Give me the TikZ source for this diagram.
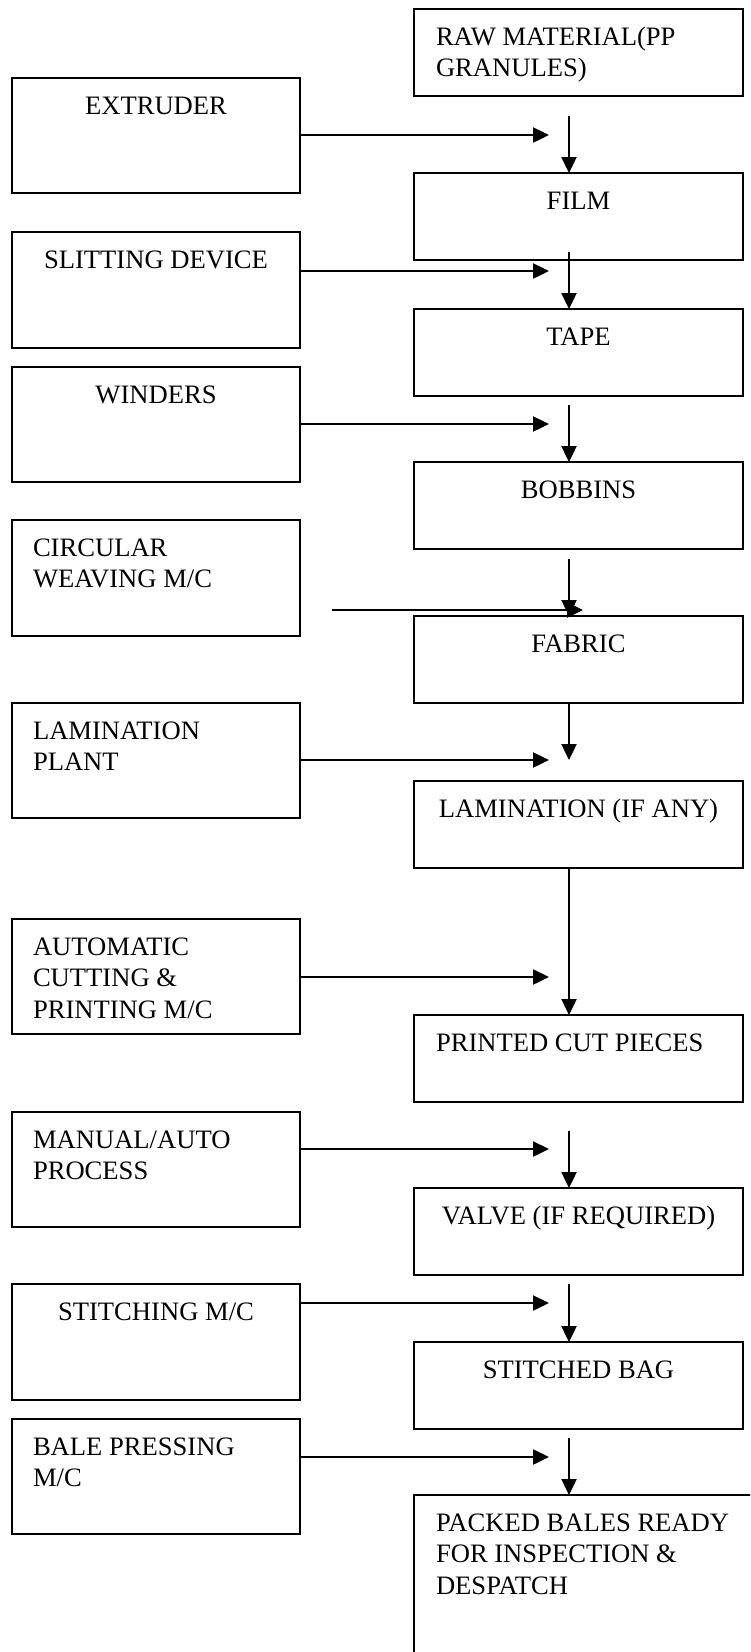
\documentclass[tikz,border=0pt]{standalone}
\usepackage{fontspec}
\setmainfont{Liberation Serif}
\usetikzlibrary{arrows.meta}
\newcommand\mybxt[4]{\parbox[c][#2][t]{#1}{#3\rule{0pt}{36pt}#4}}
\newcommand\myleftpad{\raggedright\leftskip=21pt\relax}
\newcommand\myrightpad{\raggedright\leftskip=22pt\relax}
\newcommand\mycenter{\centering}
\begin{document}
\begin{tikzpicture}[x=1pt,y=-1pt,
  font=\fontsize{26.6}{31.5}\selectfont,
  box/.style={draw, line width=2pt, inner sep=0pt, outer sep=0pt, anchor=north west},
  arr/.style={line width=2.4pt, -{Triangle[length=16pt,width=15pt]}}]
\useasboundingbox (0,0) rectangle (750,1652);
\clip (0,0) rectangle (750,1652);
% right column
\node[box] (raw) at (414,9) {\mybxt{329pt}{87pt}{\myrightpad}{RAW MATERIAL(PP\\GRANULES)}};
\node[box] (film) at (414,173) {\mybxt{329pt}{87pt}{\mycenter}{FILM}};
\node[box] (tape) at (414,309) {\mybxt{329pt}{87pt}{\mycenter}{TAPE}};
\node[box] (bobbins) at (414,462) {\mybxt{329pt}{87pt}{\mycenter}{BOBBINS}};
\node[box] (fabric) at (414,616) {\mybxt{329pt}{87pt}{\mycenter}{FABRIC}};
\node[box] (lam) at (414,781) {\mybxt{329pt}{87pt}{\mycenter}{LAMINATION (IF ANY)}};
\node[box] (printed) at (414,1015) {\mybxt{329pt}{87pt}{\myrightpad}{PRINTED CUT PIECES}};
\node[box] (valve) at (414,1188) {\mybxt{329pt}{87pt}{\mycenter}{VALVE (IF REQUIRED)}};
\node[box] (stitched) at (414,1342) {\mybxt{329pt}{87pt}{\mycenter}{STITCHED BAG}};
\node[box] (packed) at (414,1495) {\mybxt{400pt}{250pt}{\myrightpad}{PACKED BALES READY\\FOR INSPECTION \&\\DESPATCH}};
% left column
\node[box] (ext) at (12,78) {\mybxt{288pt}{115pt}{\mycenter}{EXTRUDER}};
\node[box] (slit) at (12,232) {\mybxt{288pt}{116pt}{\mycenter}{SLITTING DEVICE}};
\node[box] (wind) at (12,367) {\mybxt{288pt}{115pt}{\mycenter}{WINDERS}};
\node[box] (circ) at (12,520) {\mybxt{288pt}{116pt}{\myleftpad}{CIRCULAR\\WEAVING M/C}};
\node[box] (lplant) at (12,703) {\mybxt{288pt}{115pt}{\myleftpad}{LAMINATION\\PLANT}};
\node[box] (auto) at (12,919) {\mybxt{288pt}{115pt}{\myleftpad}{AUTOMATIC\\CUTTING \&\\PRINTING M/C}};
\node[box] (manual) at (12,1112) {\mybxt{288pt}{115pt}{\myleftpad}{MANUAL/AUTO\\PROCESS}};
\node[box] (stm) at (12,1284) {\mybxt{288pt}{116pt}{\mycenter}{STITCHING M/C}};
\node[box] (bale) at (12,1419) {\mybxt{288pt}{115pt}{\myleftpad}{BALE PRESSING\\M/C}};
% connector coordinates
\coordinate (vx) at (569,0);
\coordinate (s1) at (569,116);
\coordinate (s2) at (569,252);
\coordinate (s3) at (569,405);
\coordinate (s4) at (569,559);
\coordinate (e5) at (569,760);
\coordinate (s7) at (569,1131);
\coordinate (s8) at (569,1284);
\coordinate (s9) at (569,1438);
\coordinate (h1) at (549,135);
\coordinate (h2) at (549,271);
\coordinate (h3) at (549,424);
\coordinate (h5) at (549,760);
\coordinate (h6) at (549,977);
\coordinate (h7) at (549,1149);
\coordinate (h8) at (549,1303);
\coordinate (h9) at (549,1457);
\coordinate (c0) at (332,610);
\coordinate (c1) at (583,610);
% vertical arrows
\draw[arr] (s1) -- (s1 |- film.north);
\draw[arr] (s2) -- (s2 |- tape.north);
\draw[arr] (s3) -- (s3 |- bobbins.north);
\draw[arr] (s4) -- (s4 |- fabric.north);
\draw[arr] (fabric.south -| vx) -- (e5);
\draw[arr] (lam.south -| vx) -- (printed.north -| vx);
\draw[arr] (s7) -- (s7 |- valve.north);
\draw[arr] (s8) -- (s8 |- stitched.north);
\draw[arr] (s9) -- (s9 |- packed.north);
% horizontal arrows
\draw[arr] (ext.east |- h1) -- (h1);
\draw[arr] (slit.east |- h2) -- (h2);
\draw[arr] (wind.east |- h3) -- (h3);
\draw[arr] (c0) -- (c1);
\draw[arr] (lplant.east |- h5) -- (h5);
\draw[arr] (auto.east |- h6) -- (h6);
\draw[arr] (manual.east |- h7) -- (h7);
\draw[arr] (stm.east |- h8) -- (h8);
\draw[arr] (bale.east |- h9) -- (h9);
\end{tikzpicture}
\end{document}
